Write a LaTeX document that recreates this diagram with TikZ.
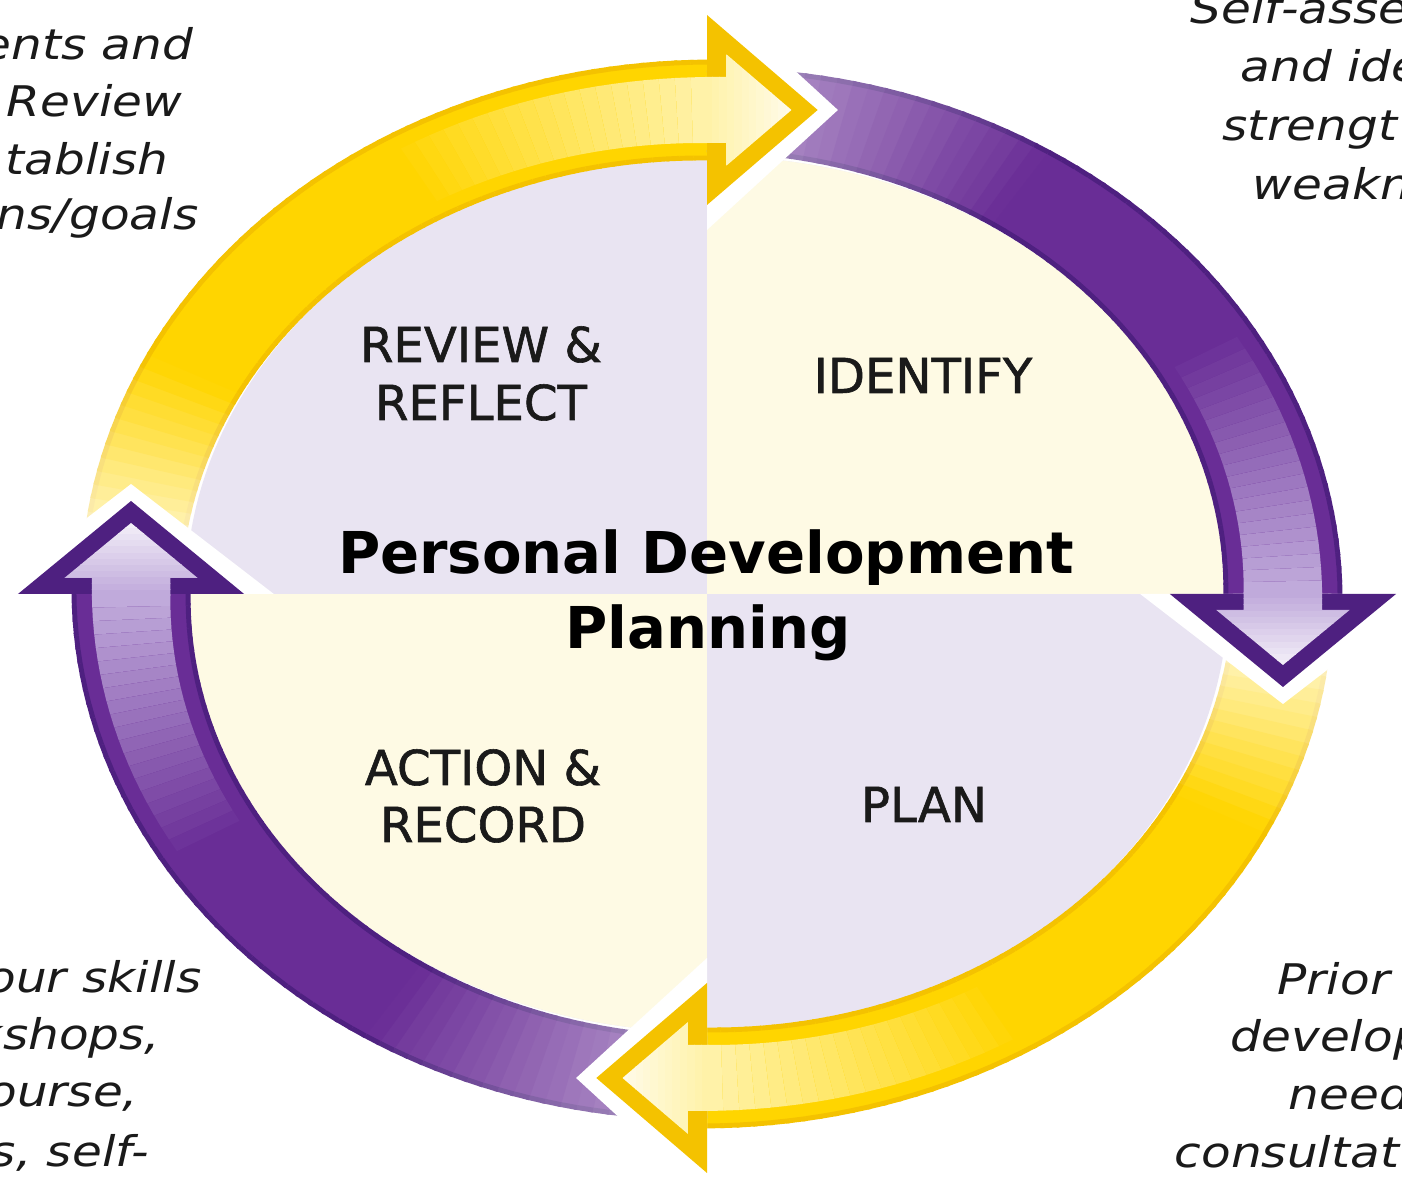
\documentclass[tikz,border=0pt]{standalone}
\usepackage{fontspec}
\setmainfont{DejaVu Sans}
\newfontfamily\notefont[FakeStretch=1.15]{DejaVu Sans}
\newfontfamily\quadfont[FakeBold=1.2]{DejaVu Sans}
\definecolor{gold}{HTML}{FFD500}
\definecolor{goldedge}{HTML}{F4C200}
\definecolor{goldpale}{HTML}{FFF2A8}
\definecolor{goldtip}{HTML}{FFFBE8}
\definecolor{purp}{HTML}{692D96}
\definecolor{purpedge}{HTML}{4E2080}
\definecolor{purppale}{HTML}{C0AADB}
\definecolor{purptip}{HTML}{F3EFF8}
\definecolor{lav}{HTML}{E9E4F2}
\definecolor{cream}{HTML}{FEFAE4}
\definecolor{ink}{HTML}{1A1A1A}

% #1 tail angle, #2 head angle, #3 main, #4 edge, #5 pale, #6 tail start percent, #7 fade span
\newcommand\bandarc[7]{%
\foreach \i in {0,...,59}{%
 \pgfmathsetmacro\ta{#1+(#2-(#1))*\i/60}%
 \pgfmathsetmacro\tb{#1+(#2-(#1))*(\i+1.2)/60}%
 \pgfmathsetmacro\wa{40+8*\i/60}%
 \pgfmathsetmacro\wb{40+8*(\i+1)/60}%
 \pgfmathtruncatemacro\pf{min(100,#6+(100-#6)*abs(\ta-(#1))/#7)}%
 \fill[#3!\pf!white] (\ta:{484-\wa}) -- (\ta:{484+\wa}) -- (\tb:{484+\wb}) -- (\tb:{484-\wb}) -- cycle;
 \draw[#4!\pf!white, line width=1.4pt] (\ta:{484+\wa}) -- (\tb:{484+\wb});
 \draw[#4!\pf!white, line width=1.4pt] (\ta:{484-\wa}) -- (\tb:{484-\wb});
 \ifnum\i>39
   \pgfmathtruncatemacro\q{(\i-39)*100/20}%
   \fill[#5!\q!#3] (\ta:{484-\wa+15}) -- (\ta:{484+\wa-15}) -- (\tb:{484+\wb-15}) -- (\tb:{484-\wb+15}) -- cycle;
 \fi
}}

% #1 angle, #2 outline colour, #3 pale base, #4 pale tip
\newcommand\arrowhead[4]{%
 \begin{scope}[shift={(#1:484)}, rotate=90-#1]
  \fill[white] (0,120) -- (110,0) -- (0,-120) -- cycle;
  \fill[#2] (0,95) -- (93,0) -- (0,-95) -- cycle;
  \begin{scope}
   \clip (-2,33) -- (16,33) -- (16,56) -- (71,0) -- (16,-56) -- (16,-33) -- (-2,-33) -- cycle;
   \foreach \k in {0,...,11}{\pgfmathtruncatemacro\q{\k*100/11}
     \fill[#4!\q!#3] ({-2+\k*6.2},-100) rectangle ({-2+(\k+1)*6.2+0.6},100);}
  \end{scope}
 \end{scope}}

\tikzset{
 quad/.style={font=\quadfont\fontsize{13.7}{16}\selectfont, text=ink, inner sep=0pt, anchor=base},
 title/.style={font=\bfseries\fontsize{16.4}{19}\selectfont, text=black, inner sep=0pt, anchor=base},
 note/.style={font=\notefont\itshape\fontsize{12}{14}\selectfont, text=ink, inner sep=0pt}
}

\begin{document}
\begin{tikzpicture}[x=0.01cm,y=-0.01cm]
\useasboundingbox (0,0) rectangle (1402,1180);
\clip (0,0) rectangle (1402,1180);
\fill[white] (0,0) rectangle (1402,1180);

\begin{scope}[shift={(707,594)}, xscale=1.19, yscale=-1]
 % quadrant fill
 \begin{scope}
  \clip (0,0) circle (438);
  \fill[lav] (-600,-600) rectangle (600,600);
  \fill[cream] (0,0) rectangle (600,600);
  \fill[cream] (0,0) rectangle (-600,-600);
 \end{scope}
 % bands
 \bandarc{180}{90}{gold}{goldedge}{goldpale}{0}{26}
 \bandarc{90}{0}{purp}{purpedge}{purppale}{45}{32}
 \bandarc{0}{-90}{gold}{goldedge}{goldpale}{0}{26}
 \bandarc{-90}{-180}{purp}{purpedge}{purppale}{45}{32}
 % heads
 \arrowhead{90}{goldedge}{goldpale}{goldtip}
 \arrowhead{0}{purpedge}{purppale}{purptip}
 \arrowhead{-90}{goldedge}{goldpale}{goldtip}
 \arrowhead{-180}{purpedge}{purppale}{purptip}
\end{scope}

% quadrant labels
\node[quad] (rr1) at (481,362) {REVIEW \&};
\node[quad] (rr2) at (481,420) {REFLECT};
\node[quad] (idf) at (923,393) {IDENTIFY};
\node[quad] (ar1) at (483,785) {ACTION \&};
\node[quad] (ar2) at (483,842) {RECORD};
\node[quad] (pln) at (924,822) {PLAN};
\node[title] (t1) at (706,574) {Personal Development};
\node[title] (t2) at (708,649) {Planning};

% corner notes (cropped by the picture edge)
\node[note, anchor=base east] (tl1) at (194,60) {ents and};
\node[note, anchor=base east] (tl2) at (183,117) {Review};
\node[note, anchor=base east] (tl3) at (169,175) {tablish};
\node[note, anchor=base east] (tl4) at (199,230) {ns/goals};
\node[note, anchor=base west] (tr1) at (1190,24) {Self-asse};
\node[note, anchor=base west] (tr2) at (1240,82) {and ide};
\node[note, anchor=base west] (tr3) at (1222,141) {strengt};
\node[note, anchor=base west] (tr4) at (1252,200) {weakn};
\node[note, anchor=base east] (bl1) at (202,993) {our skills};
\node[note, anchor=base east] (bl2) at (161,1050) {kshops,};
\node[note, anchor=base east] (bl3) at (139,1107) {ourse,};
\node[note, anchor=base east] (bl4) at (150,1167) {s, self-};
\node[note, anchor=base west] (br1) at (1277,995) {Prior};
\node[note, anchor=base west] (br2) at (1230,1052) {develop};
\node[note, anchor=base west] (br3) at (1288,1110) {need};
\node[note, anchor=base west] (br4) at (1174,1168) {consultat};
\end{tikzpicture}
\end{document}
